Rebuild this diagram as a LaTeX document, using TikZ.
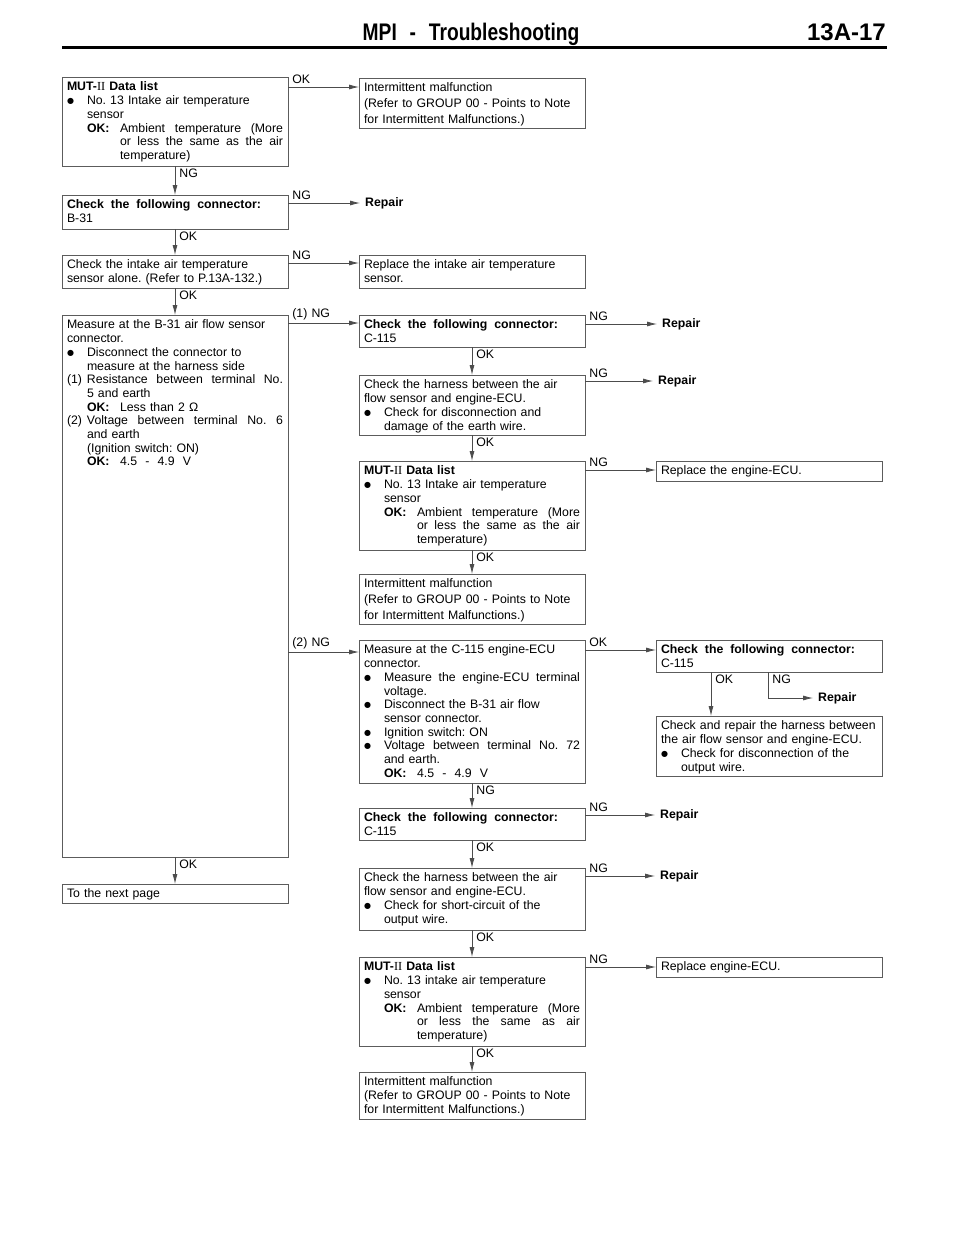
\documentclass[tikz,border=0pt]{standalone}
\usepackage{fontspec}
\usepackage{graphicx}
\setmainfont{Liberation Sans}[WordSpace=1.2]
\newfontfamily\romfont{Liberation Serif}
\newfontfamily\dotfont{DejaVu Sans}
\usetikzlibrary{arrows.meta}
\frenchspacing

\definecolor{framegray}{gray}{0.36}
\definecolor{wiregray}{gray}{0.3}

\newcommand{\boxtext}[2]{\begin{minipage}[t][#1][t]{216pt}#2\end{minipage}}
\newcommand{\mut}{\textbf{MUT-{\romfont\mdseries II} Data list}}
\newcommand{\conn}[1]{{\bfseries\spaceskip=7pt plus 1pt\relax Check the following connector:}\\#1}
\newcommand{\bul}{\raisebox{1pt}{\dotfont\fontsize{8}{8}\selectfont ●}}
\newcommand{\bitem}[1]{\par{\hangindent=20pt\hangafter=1\noindent\makebox[20pt][l]{\bul}#1\par}}
\newcommand{\nitem}[2]{\par{\hangindent=20pt\hangafter=1\noindent\makebox[20pt][l]{#1}#2\par}}
\newcommand{\okitem}[1]{\par{\leftskip=20pt\hangindent=33pt\hangafter=1\noindent\makebox[33pt][l]{\textbf{OK:}}#1\par}}

\begin{document}
\begin{tikzpicture}[x=1pt,y=-1pt,font=\fontsize{12.3}{13.7}\selectfont,
  box/.style={draw=framegray,line width=0.8pt,anchor=north west,inner xsep=5pt,inner ysep=5pt,outer sep=0pt},
  wire/.style={draw=wiregray,line width=0.75pt,-{Latex[length=10pt,width=5pt]}},
  hlab/.style={anchor=south west,inner xsep=4pt,inner ysep=3pt},
  vlab/.style={anchor=north west,inner xsep=4pt,inner ysep=3pt},
  fix/.style={anchor=west,inner xsep=5pt,font=\fontsize{12.3}{13.7}\selectfont\bfseries}]
\useasboundingbox (0,0) rectangle (960,1242);

\node[anchor=base,inner sep=0pt] (title) at (471,40) {\scalebox{0.8}[1]{\fontsize{24}{24}\selectfont\bfseries MPI \ - \ Troubleshooting}};
\node[anchor=base east,inner sep=0pt] (pageno) at (886,40) {\fontsize{24}{24}\selectfont\bfseries 13A-17};
\draw[line width=3.5pt] (62,47.5) -- (887,47.5);

\node[box] (mut1) at (62,77) {\boxtext{79pt}{\mut
  \bitem{No.\ 13 Intake air temperature\\sensor}
  \okitem{Ambient temperature (More\linebreak or less the same as the air\linebreak temperature)}}};
\node[box] (intm1) at (359,78) {\boxtext{40pt}{Intermittent malfunction\\[2.3pt](Refer to GROUP 00 - Points to Note\\[2.3pt]for Intermittent Malfunctions.)}};
\node[box] (conB31) at (62,195) {\boxtext{24pt}{\conn{B-31}}};
\node[fix] (rep1) at (360,203) {Repair};
\node[box] (iat) at (62,255) {\boxtext{23pt}{Check the intake air temperature\\sensor alone. (Refer to P.13A-132.)}};
\node[box] (repiat) at (359,255) {\boxtext{23pt}{Replace the intake air temperature\\sensor.}};
\node[box] (meas) at (62,315) {\boxtext{532pt}{Measure at the B-31 air flow sensor\\connector.
  \bitem{Disconnect the connector to\\measure at the harness side}
  \nitem{(1)}{Resistance between terminal No.\linebreak 5 and earth}
  \okitem{Less than 2 Ω}
  \nitem{(2)}{Voltage between terminal No. 6\linebreak and earth\\(Ignition switch: ON)}
  \okitem{4.5 \ - \ 4.9 \ V}}};
\node[box] (nextp) at (62,884) {\boxtext{9pt}{To the next page}};

\node[box] (conC1) at (359,315) {\boxtext{22pt}{\conn{C-115}}};
\node[fix] (rep2) at (657,324) {Repair};
\node[box] (harn1) at (359,375) {\boxtext{50pt}{Check the harness between the air\\flow sensor and engine-ECU.
  \bitem{Check for disconnection and\\damage of the earth wire.}}};
\node[fix] (rep3) at (653,381) {Repair};
\node[box] (mut2) at (359,461) {\boxtext{79pt}{\mut
  \bitem{No. 13 Intake air temperature\\sensor}
  \okitem{Ambient temperature (More\linebreak or less the same as the air\linebreak temperature)}}};
\node[box] (repecu1) at (656,461) {\boxtext{10pt}{Replace the engine-ECU.}};
\node[box] (intm2) at (359,574) {\boxtext{40pt}{Intermittent malfunction\\[2.3pt](Refer to GROUP 00 - Points to Note\\[2.3pt]for Intermittent Malfunctions.)}};
\node[box] (measC) at (359,640) {\boxtext{133pt}{Measure at the C-115 engine-ECU\\connector.
  \bitem{Measure the engine-ECU terminal\linebreak voltage.}
  \bitem{Disconnect the B-31 air flow\\sensor connector.}
  \bitem{Ignition switch: ON}
  \bitem{Voltage between terminal No. 72\linebreak and earth.}
  \okitem{4.5 \ - \ 4.9 \ V}}};
\node[box] (conC3) at (656,640) {\boxtext{22pt}{\conn{C-115}}};
\node[fix] (rep4) at (813,698) {Repair};
\node[box] (harn3) at (656,716) {\boxtext{50pt}{Check and repair the harness between\\the air flow sensor and engine-ECU.
  \bitem{Check for disconnection of the\\output wire.}}};
\node[box] (conC2) at (359,808) {\boxtext{22pt}{\conn{C-115}}};
\node[fix] (rep5) at (655,815) {Repair};
\node[box] (harn2) at (359,868) {\boxtext{52pt}{Check the harness between the air\\flow sensor and engine-ECU.
  \bitem{Check for short-circuit of the\\output wire.}}};
\node[fix] (rep6) at (655,876) {Repair};
\node[box] (mut3) at (359,957) {\boxtext{79pt}{\mut
  \bitem{No. 13 intake air temperature\\sensor}
  \okitem{Ambient temperature (More\linebreak or less the same as air\linebreak temperature)}}};
\node[box] (repecu2) at (656,957) {\boxtext{10pt}{Replace engine-ECU.}};
\node[box] (intm3) at (359,1072) {\boxtext{37pt}{Intermittent malfunction\\(Refer to GROUP 00 - Points to Note\\for Intermittent Malfunctions.)}};

\draw[wire] ([yshift=-10pt]mut1.north east) -- node[hlab,pos=0] {OK} ([yshift=-10pt]mut1.north east -| intm1.west);
\draw[wire] (mut1.south) -- node[vlab,pos=0] {NG} (conB31.north);
\draw[wire] (conB31.east |- rep1.west) -- node[hlab,pos=0] {NG} (rep1.west);
\draw[wire] (conB31.south) -- node[vlab,pos=0] {OK} (iat.north);
\draw[wire] ([yshift=-8pt]iat.north east) -- node[hlab,pos=0] {NG} ([yshift=-8pt]iat.north east -| repiat.west);
\draw[wire] (iat.south) -- node[vlab,pos=0] {OK} (meas.north);
\draw[wire] ([yshift=-8pt]meas.north east) -- node[hlab,pos=0] {(1) NG} ([yshift=-8pt]meas.north east -| conC1.west);
\draw[wire] ([yshift=-12pt]measC.north west -| meas.east) -- node[hlab,pos=0] {(2) NG} ([yshift=-12pt]measC.north west);
\draw[wire] (meas.south) -- node[vlab,pos=0] {OK} (nextp.north);

\draw[wire] (conC1.east |- rep2.west) -- node[hlab,pos=0] {NG} (rep2.west);
\draw[wire] (conC1.south) -- node[vlab,pos=0] {OK} (harn1.north);
\draw[wire] (harn1.east |- rep3.west) -- node[hlab,pos=0] {NG} (rep3.west);
\draw[wire] (harn1.south) -- node[vlab,pos=0] {OK} (mut2.north);
\draw[wire] ([yshift=-9pt]mut2.north east) -- node[hlab,pos=0] {NG} ([yshift=-9pt]mut2.north east -| repecu1.west);
\draw[wire] (mut2.south) -- node[vlab,pos=0] {OK} (intm2.north);
\draw[wire] ([yshift=-10pt]measC.north east) -- node[hlab,pos=0] {OK} ([yshift=-10pt]measC.north east -| conC3.west);
\draw[wire] ([xshift=55pt]conC3.south west) -- node[vlab,pos=0] {OK} ([xshift=55pt]conC3.south west |- harn3.north);
\draw[wire] ([xshift=112pt]conC3.south west) |- node[vlab,pos=0] {NG} (rep4.west);
\draw[wire] (measC.south) -- node[vlab,pos=0] {NG} (conC2.north);
\draw[wire] (conC2.east |- rep5.west) -- node[hlab,pos=0] {NG} (rep5.west);
\draw[wire] (conC2.south) -- node[vlab,pos=0] {OK} (harn2.north);
\draw[wire] (harn2.east |- rep6.west) -- node[hlab,pos=0] {NG} (rep6.west);
\draw[wire] (harn2.south) -- node[vlab,pos=0] {OK} (mut3.north);
\draw[wire] ([yshift=-10pt]mut3.north east) -- node[hlab,pos=0] {NG} ([yshift=-10pt]mut3.north east -| repecu2.west);
\draw[wire] (mut3.south) -- node[vlab,pos=0] {OK} (intm3.north);
\end{tikzpicture}
\end{document}
